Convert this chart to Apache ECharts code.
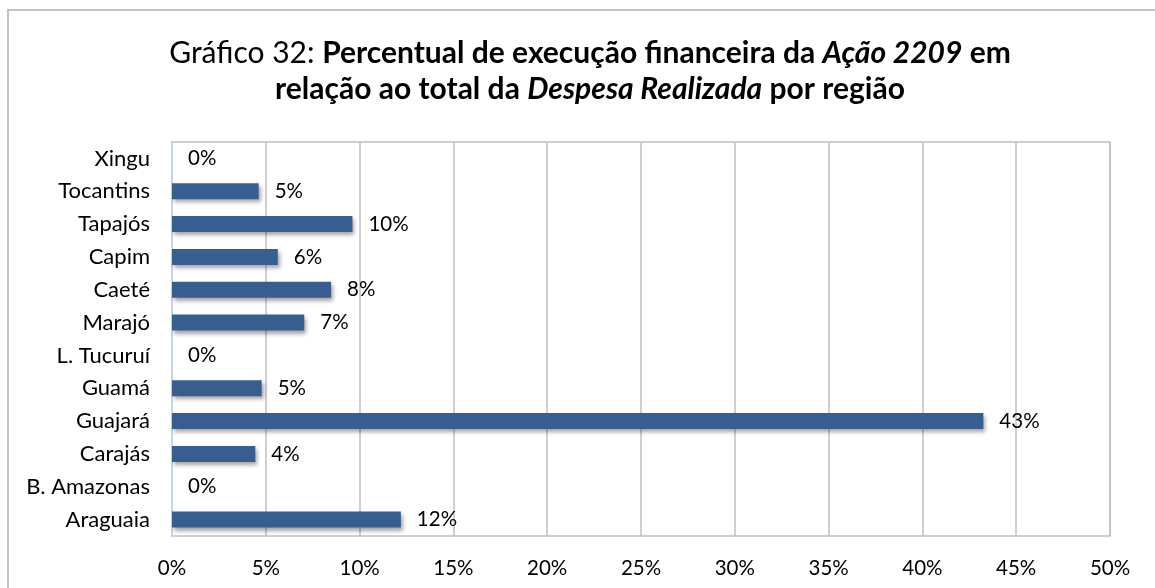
<!DOCTYPE html>
<html>
<head>
<meta charset="utf-8">
<script src="https://cdn.jsdelivr.net/npm/echarts@6/dist/echarts.min.js"></script>
<style>
  html, body { margin: 0; padding: 0; background: #ffffff; }
  #chart { width: 1155px; height: 588px; }
</style>
</head>
<body>
<div id="chart"></div>
<script>
// Regions, listed top to bottom
const regions = ['Xingu', 'Tocantins', 'Tapajós', 'Capim', 'Caeté', 'Marajó',
  'L. Tucuruí', 'Guamá', 'Guajará', 'Carajás', 'B. Amazonas', 'Araguaia'];
// Share of Ação 2209 in the total realised expense (%)
const shares = [0, 4.62, 9.62, 5.64, 8.48, 7.05, 0, 4.78, 43.25, 4.44, 0, 12.2];
// Percent axis
const axisMin = 0;
const axisMax = 50;
const axisStep = 5;

const FONT = 'Lato, "Open Sans", sans-serif';
const TITLE_SIZE = 30;
const TITLE_LINE = 36;

const chart = echarts.init(document.getElementById('chart'), null, { renderer: 'canvas' });

chart.setOption({
  backgroundColor: '#ffffff',
  animation: false,
  title: {
    left: 585,
    top: 30,
    textAlign: 'center',
    text: '{r|Gráfico 32: }{b|Percentual de execução financeira da }{bi|Ação 2209}{b| em}\n' +
          '{b|relação ao total da }{bi|Despesa Realizada}{b| por região}',
    textStyle: {
      fontFamily: FONT,
      fontSize: TITLE_SIZE,
      color: '#000',
      lineHeight: TITLE_LINE,
      rich: {
        r:  { fontFamily: FONT, fontSize: TITLE_SIZE, fontWeight: 'normal', color: '#000', lineHeight: TITLE_LINE, align: 'center' },
        b:  { fontFamily: FONT, fontSize: TITLE_SIZE, fontWeight: 'bold', color: '#000', lineHeight: TITLE_LINE, align: 'center' },
        bi: { fontFamily: FONT, fontSize: TITLE_SIZE, fontWeight: 'bold', fontStyle: 'italic', color: '#000', lineHeight: TITLE_LINE, align: 'center' }
      }
    }
  },
  graphic: [{
    type: 'rect',
    silent: true,
    z: -10,
    shape: { x: 8, y: 10, width: 1400, height: 800 },
    style: { fill: '#ffffff', stroke: '#c4c4c4', lineWidth: 2 }
  }],
  grid: {
    left: 172,
    right: 45,
    top: 142,
    bottom: 52,
    show: true,
    borderColor: '#c0c0c0',
    borderWidth: 1.5,
    backgroundColor: 'transparent'
  },
  xAxis: {
    type: 'value',
    min: axisMin,
    max: axisMax,
    interval: axisStep,
    axisLine: { show: false },
    axisTick: { show: false },
    splitLine: { show: true, lineStyle: { color: '#c0c0c0', width: 1.5 } },
    axisLabel: {
      formatter: '{value}%',
      fontFamily: FONT,
      fontSize: 20.5,
      color: '#000',
      margin: 22
    }
  },
  yAxis: {
    type: 'category',
    data: regions,
    inverse: true,
    axisTick: { show: false },
    axisLine: { show: true, lineStyle: { color: '#c6d6ea', width: 2 } },
    splitLine: { show: false },
    axisLabel: {
      fontFamily: FONT,
      fontSize: 22,
      color: '#000',
      margin: 22
    }
  },
  series: [{
    type: 'bar',
    data: shares,
    barWidth: 16,
    itemStyle: {
      color: '#385e8f',
      shadowColor: 'rgba(0,0,0,0.35)',
      shadowBlur: 4,
      shadowOffsetX: 2,
      shadowOffsetY: 3
    },
    label: {
      show: true,
      position: 'right',
      distance: 16,
      formatter: p => Math.round(p.value) + '%',
      fontFamily: FONT,
      fontSize: 20.5,
      color: '#000'
    }
  }]
});
</script>
</body>
</html>
